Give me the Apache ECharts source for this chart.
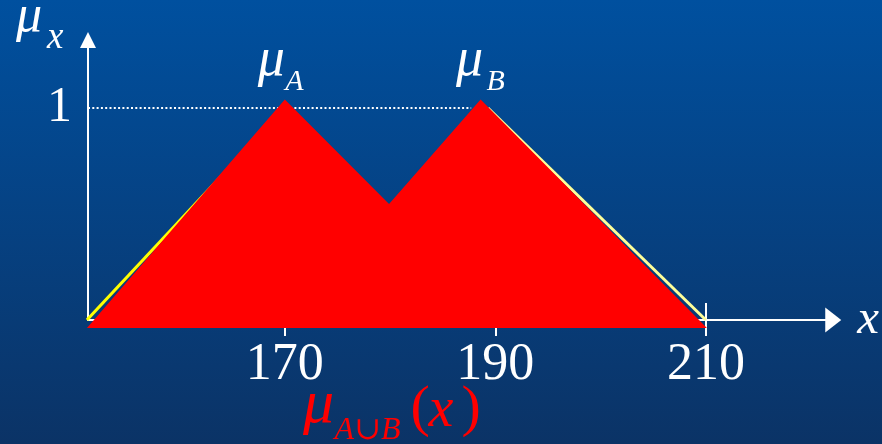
<!DOCTYPE html>
<html>
<head>
<meta charset="utf-8">
<script src="https://cdn.jsdelivr.net/npm/echarts@6/dist/echarts.min.js"></script>
<style>
  html, body { margin: 0; padding: 0; background: #0a3a72; }
  #chart { width: 882px; height: 444px; }
</style>
</head>
<body>
<div id="chart"></div>
<script>
// Axis ranges and tick labels
const xRange = [151.3, 222.1];
const xTicks = [170, 190, 210];
const yRange = [0, 1.3208];
const yTicks = [1];

// Outer edges of the two triangular membership functions
const edgeA = [[151.2, 0], [170, 1]];
const edgeB = [[189.3, 1], [210, 0]];

// Outline of the union A ∪ B (filled)
const unionOutline = [[151.2, -0.038], [170, 1.04], [179.9, 0.547], [188.6, 1.04], [210.1, -0.038]];

// Dotted guide at membership 1
const levelOne = [[151.3, 1], [187.7, 1]];

// Label anchors
const peakA = [170, 1];
const peakB = [189.3, 1];
const unionAnchor = [180, 0];

const serif = "'Liberation Serif', 'Times New Roman', 'DejaVu Serif', serif";
const white = '#ffffff';
const red = '#ff0000';

const chart = echarts.init(document.getElementById('chart'), null, { renderer: 'canvas' });

// One text fragment placed relative to an anchor point (pixel offsets)
function piece(anchor, text, size, italic, dx, dy, color, align) {
  return {
    value: anchor,
    label: {
      show: true,
      formatter: text,
      position: [dx, dy],
      align: align || 'left',
      verticalAlign: 'middle',
      color: color,
      fontFamily: serif,
      fontStyle: italic ? 'italic' : 'normal',
      fontSize: size
    }
  };
}

function textItem(text, size, italic, x, y, align) {
  return {
    type: 'text',
    x: x, y: y,
    silent: true,
    style: {
      text: text, fill: white,
      font: (italic ? 'italic ' : '') + size + 'px ' + serif,
      textAlign: align || 'left', textVerticalAlign: 'middle'
    }
  };
}

chart.setOption({
  animation: false,
  backgroundColor: new echarts.graphic.LinearGradient(0, 0, 0, 1, [
    { offset: 0, color: '#00509f' },
    { offset: 1, color: '#0b3366' }
  ]),
  grid: { left: 88, right: 47, top: 40, bottom: 124, containLabel: false },
  graphic: [
    textItem('μ', 52, true, 29, 17, 'center'),
    textItem('x', 37, true, 47, 38, 'left')
  ],
  xAxis: [{
    type: 'value',
    position: 'bottom',
    min: xRange[0],
    max: xRange[1],
    axisLine: {
      show: true, onZero: true,
      lineStyle: { color: white, width: 2 },
      symbol: ['none', 'triangle'], symbolSize: [25, 16]
    },
    axisTick: { show: true, customValues: xTicks, length: 16, lineStyle: { color: white, width: 2 } },
    axisLabel: { customValues: xTicks, color: white, fontFamily: serif, fontSize: 52, margin: 19 },
    splitLine: { show: false },
    name: 'x',
    nameLocation: 'end',
    nameGap: 24,
    nameTextStyle: { color: white, fontFamily: serif, fontStyle: 'italic', fontSize: 49 }
  }, {
    type: 'value',
    position: 'bottom',
    min: xRange[0],
    max: xRange[1],
    axisLine: { show: false },
    axisTick: { show: true, inside: true, customValues: xTicks, length: 17, lineStyle: { color: white, width: 2 } },
    axisLabel: { show: false },
    splitLine: { show: false }
  }],
  yAxis: {
    type: 'value',
    min: yRange[0],
    max: yRange[1],
    axisLine: {
      show: true, onZero: false,
      lineStyle: { color: white, width: 2 },
      symbol: ['none', 'triangle'], symbolSize: [16, 16]
    },
    axisTick: { show: false },
    axisLabel: { customValues: yTicks, color: white, fontFamily: serif, fontSize: 50, margin: 16 },
    splitLine: { show: false }
  },
  series: [
    {
      type: 'line', name: 'edgeA', data: edgeA, symbol: 'none', z: 2, silent: true,
      lineStyle: { color: '#ffff00', width: 3 }
    },
    {
      type: 'line', name: 'edgeB', data: edgeB, symbol: 'none', z: 2, silent: true,
      lineStyle: { color: '#ffff99', width: 3 }
    },
    {
      type: 'line', name: 'level', data: levelOne, symbol: 'none', z: 2, silent: true,
      lineStyle: { color: white, width: 2, type: [2, 2.3] }
    },
    {
      type: 'custom', name: 'union', z: 3, silent: true, clip: false,
      data: [[180, 0.5]],
      renderItem: function (params, api) {
        return {
          type: 'polygon',
          shape: { points: unionOutline.map(function (p) { return api.coord(p); }) },
          style: { fill: red, stroke: null }
        };
      }
    },
    {
      type: 'scatter', name: 'labels', z: 4, silent: true, symbolSize: 1,
      itemStyle: { color: 'rgba(0,0,0,0)', opacity: 1 },
      data: [
        piece(peakA, 'μ', 54, true, -13, -47, white, 'center'),
        piece(peakA, 'A', 30, true, 1, -25, white),
        piece(peakB, 'μ', 54, true, -18, -47, white, 'center'),
        piece(peakB, 'B', 30, true, -1, -25, white),
        piece(unionAnchor, 'μ', 62, true, -71, 86, red, 'center'),
        piece(unionAnchor, 'A∪B', 32, true, -55, 111, red),
        piece(unionAnchor, '(', 58, false, 21, 90, red),
        piece(unionAnchor, 'x', 56, true, 39, 92, red),
        piece(unionAnchor, ')', 58, false, 72, 90, red)
      ]
    }
  ]
});
</script>
</body>
</html>
